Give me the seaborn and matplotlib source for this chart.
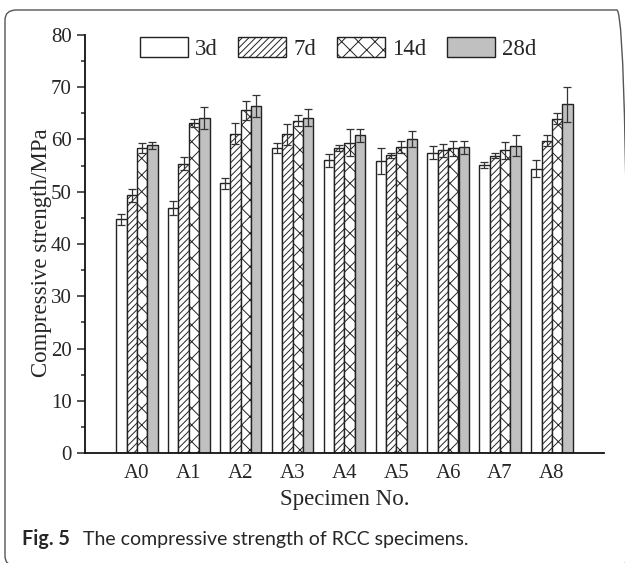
import numpy as np
import pandas as pd
import matplotlib
matplotlib.use("Agg")
import matplotlib.pyplot as plt
from matplotlib.patches import FancyBboxPatch, Patch
from matplotlib.ticker import MultipleLocator
import seaborn as sns

specimens = ["A0", "A1", "A2", "A3", "A4", "A5", "A6", "A7", "A8"]
ages = ["3d", "7d", "14d", "28d"]

s3 = [44.7, 46.9, 51.6, 58.4, 56.0, 55.9, 57.5, 55.1, 54.4]
s7 = [49.3, 55.4, 61.1, 61.0, 58.4, 57.0, 57.9, 56.9, 59.8]
s14 = [58.4, 63.2, 65.6, 63.6, 59.4, 58.6, 58.3, 57.9, 64.0]
s28 = [58.9, 64.1, 66.4, 64.2, 60.8, 60.1, 58.5, 58.8, 66.7]

e3 = [1.0, 1.4, 1.1, 1.0, 1.3, 2.5, 1.3, 0.5, 1.6]
e7 = [1.2, 1.2, 2.0, 2.0, 0.6, 0.5, 1.2, 0.5, 1.0]
e14 = [0.9, 0.8, 1.8, 1.0, 2.6, 1.2, 1.4, 1.6, 1.0]
e28 = [0.7, 2.1, 2.1, 1.6, 1.2, 1.5, 1.2, 2.0, 3.3]

values = [s3, s7, s14, s28]
errors = [e3, e7, e14, e28]

df = pd.DataFrame({
    "Specimen": np.repeat([specimens], 4, axis=0).ravel(),
    "Age": np.repeat(ages, len(specimens)),
    "Strength": np.concatenate(values),
})

sns.set_style("ticks")
serif = ["Times New Roman", "Liberation Serif", "Nimbus Roman", "DejaVu Serif"]
plt.rcParams["font.family"] = "serif"
plt.rcParams["font.serif"] = serif
plt.rcParams["hatch.linewidth"] = 0.7

fig = plt.figure(figsize=(6.25, 5.63), dpi=100)
ax = fig.add_axes([0.136, 0.195, 0.830, 0.743])

colors = ["white", "white", "white", "#c0c0c0"]
hatches = ["", "/////", "xx", ""]

sns.barplot(data=df, x="Specimen", y="Strength", hue="Age", order=specimens,
            hue_order=ages, palette=colors, errorbar=None, width=0.8,
            edgecolor="#222222", linewidth=1.0, ax=ax, legend=False)

for cont, hatch, err in zip(ax.containers, hatches, errors):
    xs = []
    ys = []
    for bar in cont:
        bar.set_hatch(hatch)
        xs.append(bar.get_x() + bar.get_width() / 2)
        ys.append(bar.get_height())
    ax.errorbar(xs, ys, yerr=err, fmt="none", ecolor="#333333",
                elinewidth=0.9, capsize=3.2, capthick=0.9, zorder=5)

ax.set_xlim(-1, 9)
ax.set_ylim(0, 80)
ax.yaxis.set_major_locator(MultipleLocator(10))
ax.yaxis.set_minor_locator(MultipleLocator(5))
ax.tick_params(axis="y", which="major", direction="out", length=5.5, width=1.1,
               labelsize=15, pad=4)
ax.tick_params(axis="y", which="minor", direction="out", length=3, width=1.1)
ax.tick_params(axis="x", which="both", length=0, labelsize=15, pad=8)
for sp in ["top", "right"]:
    ax.spines[sp].set_visible(False)
for sp in ["left", "bottom"]:
    ax.spines[sp].set_linewidth(1.3)
    ax.spines[sp].set_color("#111111")

ax.set_xlabel("Specimen No.", fontsize=16.5, labelpad=4)
ax.set_ylabel("Compressive strength/MPa", fontsize=16.5)
ax.yaxis.set_label_coords(-0.064, 0.48)

handles = [Patch(facecolor=c, edgecolor="#222222", hatch=h, linewidth=1.0)
           for c, h in zip(colors, hatches)]
ax.legend(handles, ages, loc="center", bbox_to_anchor=(0.4875, 0.968),
          ncol=4, frameon=False, fontsize=16.5, handlelength=2.1,
          handleheight=1.0, handletextpad=0.3, columnspacing=0.9,
          borderaxespad=0)

# rounded frame (right and bottom edges fall off the canvas)
frame = FancyBboxPatch((5 / 625, -3 / 563), 623 / 625, 1 - 10 / 563 + 3 / 563,
                       boxstyle="round,pad=0,rounding_size=0.018",
                       transform=fig.transFigure, fill=False,
                       edgecolor="#555555", linewidth=1.0)
fig.patches.append(frame)

sans = ["Lato", "Open Sans", "DejaVu Sans"]
fig.text(22 / 625, 1 - 539 / 563, "Fig. 5", fontsize=14.2, fontweight="bold",
         family=sans, va="center", ha="left")
fig.text(83 / 625, 1 - 539 / 563, "The compressive strength of RCC specimens.",
         fontsize=14.0, family=sans, va="center", ha="left")

fig.savefig("out.png", dpi=100)
